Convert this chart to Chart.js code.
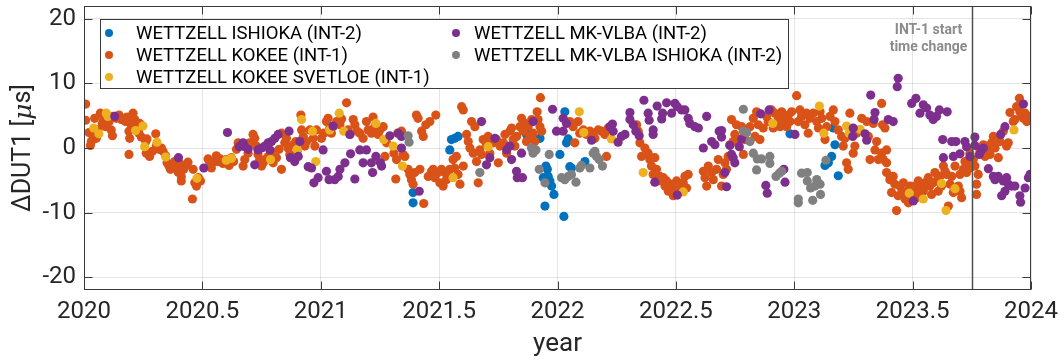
<!DOCTYPE html>
<html>
<head>
<meta charset="utf-8">
<script src="https://cdn.jsdelivr.net/npm/chart.js@4.4.1/dist/chart.umd.min.js"></script>
<style>
  html, body { margin: 0; padding: 0; background: #fff; }
</style>
</head>
<body>
<canvas id="chart" width="1061" height="360"></canvas>
<script>
/* ===== DATA ([year, ΔDUT1 in µs]) ===== */
const LABELS = [
  'WETTZELL ISHIOKA (INT-2)',
  'WETTZELL KOKEE (INT-1)',
  'WETTZELL KOKEE SVETLOE (INT-1)',
  'WETTZELL MK-VLBA (INT-2)',
  'WETTZELL MK-VLBA ISHIOKA (INT-2)',
];
const COLORS = ['#0072BD', '#D95319', '#EDB120', '#7E2F8E', '#808080'];

const X_TICKS = [2020, 2020.5, 2021, 2021.5, 2022, 2022.5, 2023, 2023.5, 2024];
const Y_TICKS = [-20, -10, 0, 10, 20];
const START_CHANGE = 2023.75;
const NOTE_LINES = ['INT-1 start', 'time change'];

const ishioka = [
  [2021.390,-6.9],[2021.390,-8.5],[2021.545,-0.3],[2021.552,1.3],[2021.566,1.5],[2021.580,1.8],
  [2021.869,2.1],[2021.926,1.5],[2021.940,-4.6],[2021.951,-2.8],[2021.957,-3.3],[2021.961,-4.4],
  [2021.968,-5.1],[2021.975,-5.9],[2021.985,-7.2],[2021.947,-9.0],[2022.031,5.6],[2022.038,0.8],
  [2022.045,1.4],[2022.052,-2.9],[2022.059,-3.1],[2022.116,-2.1],[2022.027,-10.6],[2022.010,-1.0],
  [2022.982,2.2],[2023.130,-2.7],[2023.144,-2.3],[2023.158,-1.3],[2023.172,0.5],[2023.165,3.1],
  [2023.186,-4.3],
];

const kokee = [
  // 2020.0 - 2020.65
  [2020.007,6.8],[2020.007,4.3],[2020.021,2.4],[2020.027,0.4],[2020.031,1.0],[2020.038,1.8],
  [2020.045,4.6],[2020.052,1.5],[2020.059,2.8],[2020.069,5.4],[2020.077,3.8],[2020.083,4.5],
  [2020.092,3.3],[2020.097,5.1],[2020.106,4.1],[2020.115,2.8],[2020.120,1.9],[2020.123,4.9],
  [2020.137,4.6],[2020.148,5.1],[2020.158,4.4],[2020.168,4.6],[2020.176,4.1],[2020.182,4.8],
  [2020.190,2.6],[2020.193,1.5],[2020.190,-1.0],[2020.200,3.6],[2020.207,5.4],[2020.214,4.4],
  [2020.224,3.1],[2020.232,2.3],[2020.235,3.8],[2020.242,1.7],[2020.261,1.0],[2020.266,1.4],
  [2020.263,-0.8],[2020.277,-1.3],[2020.289,-0.5],[2020.303,2.2],[2020.306,0.4],[2020.317,-0.2],
  [2020.327,0.0],[2020.334,-0.5],[2020.345,-1.2],[2020.351,-2.3],[2020.359,-2.8],[2020.365,-3.3],
  [2020.373,-2.6],[2020.383,-2.1],[2020.390,-2.9],[2020.397,-3.7],[2020.404,-2.4],[2020.411,-4.4],
  [2020.411,-5.1],[2020.421,-3.3],[2020.430,-2.7],[2020.439,-2.2],[2020.458,-7.9],[2020.461,-3.3],
  [2020.468,-5.4],[2020.475,-5.9],[2020.483,-4.6],[2020.492,-5.1],[2020.524,-1.7],[2020.531,-2.6],
  [2020.538,-3.1],[2020.545,-2.2],[2020.559,-1.2],[2020.566,-2.1],[2020.576,-1.7],[2020.587,-2.4],
  [2020.601,-1.8],[2020.613,-2.7],[2020.623,-1.5],[2020.632,-2.1],[2020.644,-0.2],[2020.651,0.8],
  // 2020.65 - 2021.33
  [2020.672,-2.8],[2020.679,-1.8],[2020.693,-0.8],[2020.700,0.8],[2020.714,2.1],[2020.721,1.5],
  [2020.728,0.3],[2020.735,-1.0],[2020.742,-1.8],[2020.750,-2.8],[2020.757,-2.3],[2020.764,-1.8],
  [2020.778,-1.3],[2020.792,-0.5],[2020.799,-2.3],[2020.813,-1.5],[2020.824,-0.2],[2020.834,2.3],
  [2020.834,-3.3],[2020.848,0.8],[2020.855,1.5],[2020.862,0.0],[2020.869,-1.0],[2020.883,0.5],
  [2020.895,1.0],[2020.900,-0.5],[2020.916,5.1],[2020.919,2.8],[2020.926,1.8],[2020.933,0.3],
  [2020.940,1.0],[2020.954,2.8],[2020.968,1.5],[2020.975,0.3],[2020.982,2.8],[2021.003,1.5],
  [2021.013,2.3],[2021.024,4.1],[2021.031,4.6],[2021.038,3.1],[2021.045,2.3],[2021.052,3.3],
  [2021.067,4.1],[2021.081,3.6],[2021.088,4.5],[2021.109,7.0],[2021.116,2.8],[2021.123,2.1],
  [2021.137,4.4],[2021.144,3.6],[2021.154,2.6],[2021.165,2.3],[2021.179,1.5],[2021.193,4.1],
  [2021.200,2.8],[2021.214,2.3],[2021.221,4.8],[2021.228,3.3],[2021.242,2.1],[2021.250,2.8],
  [2021.264,3.3],[2021.271,-1.3],[2021.278,0.8],[2021.309,-0.8],[2021.317,-4.8],[2021.320,-1.8],
  // 2021.33 - 2021.94
  [2021.341,2.6],[2021.348,-1.0],[2021.355,-1.3],[2021.369,-3.3],[2021.376,-4.1],[2021.383,-4.9],
  [2021.390,-5.6],[2021.397,-3.8],[2021.404,5.1],[2021.411,4.6],[2021.419,-3.3],[2021.426,2.6],
  [2021.433,1.8],[2021.435,-8.6],[2021.444,3.6],[2021.454,-4.4],[2021.461,4.1],[2021.468,-3.6],
  [2021.475,-3.3],[2021.482,-4.6],[2021.486,5.1],[2021.496,-3.8],[2021.503,-5.4],[2021.510,-3.3],
  [2021.517,-5.9],[2021.524,-3.8],[2021.531,-4.9],[2021.538,-4.1],[2021.545,-3.3],[2021.559,-1.8],
  [2021.566,-3.1],[2021.573,-1.3],[2021.580,-4.1],[2021.588,-5.6],[2021.595,6.4],[2021.602,5.9],
  [2021.602,-2.8],[2021.616,2.1],[2021.623,1.0],[2021.630,0.0],[2021.637,4.1],[2021.644,-0.8],
  [2021.651,3.3],[2021.658,-2.1],[2021.665,-5.4],[2021.672,-0.3],[2021.679,-1.0],[2021.686,1.3],
  [2021.700,0.5],[2021.707,1.8],[2021.714,-0.8],[2021.728,0.8],[2021.742,1.3],[2021.750,-2.3],
  [2021.757,0.3],[2021.771,0.8],[2021.778,2.1],[2021.785,-0.8],[2021.799,2.6],[2021.806,3.1],
  [2021.813,1.3],[2021.820,0.3],[2021.827,1.8],[2021.841,3.3],[2021.848,4.6],[2021.855,2.6],
  [2021.862,3.8],[2021.869,1.0],[2021.876,3.3],[2021.883,1.8],[2021.891,4.4],[2021.897,2.3],
  [2021.904,1.0],[2021.914,5.6],[2021.918,4.4],[2021.926,3.3],[2021.928,7.8],[2021.933,2.6],
  // 2022.0 - 2022.68
  [2022.052,4.1],[2022.066,3.3],[2022.073,0.8],[2022.087,4.1],[2022.094,2.3],[2022.109,2.8],
  [2022.123,2.1],[2022.137,2.6],[2022.151,2.3],[2022.158,1.5],[2022.172,2.8],[2022.186,2.6],
  [2022.200,2.1],[2022.207,-1.3],[2022.214,3.1],[2022.334,3.6],[2022.341,2.6],[2022.348,0.8],
  [2022.355,-1.3],[2022.369,0.0],[2022.383,-0.8],[2022.390,-1.8],[2022.397,-2.8],[2022.404,-4.1],
  [2022.411,-1.5],[2022.418,-3.3],[2022.425,-5.1],[2022.433,-4.4],[2022.447,-4.6],[2022.454,-5.9],
  [2022.461,-5.1],[2022.468,-6.7],[2022.475,-5.6],[2022.482,-6.4],[2022.489,-7.4],[2022.496,-6.2],
  [2022.503,-5.1],[2022.510,-6.4],[2022.517,-5.6],[2022.531,-5.4],[2022.538,-4.4],[2022.545,-6.2],
  [2022.552,-4.1],[2022.616,-3.6],[2022.623,-4.6],[2022.630,-5.9],[2022.637,-2.8],[2022.651,-3.8],
  [2022.658,-4.9],[2022.672,-3.3],[2022.679,-1.8],
  // 2022.69 - 2023.36
  [2022.693,-5.9],[2022.700,-4.1],[2022.707,-2.3],[2022.714,-3.3],[2022.721,-1.3],[2022.728,0.5],
  [2022.735,4.4],[2022.742,1.0],[2022.749,2.1],[2022.756,3.6],[2022.763,1.3],[2022.778,3.3],
  [2022.785,-1.0],[2022.792,1.3],[2022.799,2.8],[2022.813,3.3],[2022.827,4.6],[2022.834,1.8],
  [2022.841,5.6],[2022.848,3.6],[2022.855,1.3],[2022.869,3.1],[2022.883,4.9],[2022.890,4.1],
  [2022.904,5.9],[2022.911,3.1],[2022.918,5.4],[2022.933,4.6],[2022.940,3.3],[2022.947,5.6],
  [2022.954,4.4],[2022.968,3.3],[2022.975,5.1],[2022.982,4.1],[2022.989,5.6],[2023.010,8.1],
  [2023.017,4.1],[2023.024,5.9],[2023.031,4.9],[2023.045,3.6],[2023.052,5.4],[2023.059,2.3],
  [2023.066,4.6],[2023.080,5.4],[2023.095,4.1],[2023.102,3.1],[2023.109,5.6],[2023.116,4.6],
  [2023.130,1.3],[2023.137,3.3],[2023.151,4.9],[2023.165,5.9],[2023.172,4.1],[2023.186,2.8],
  [2023.200,1.8],[2023.207,0.3],[2023.214,1.5],[2023.221,-2.3],[2023.228,-3.3],[2023.235,5.4],
  [2023.249,-0.8],[2023.256,0.3],[2023.263,2.3],[2023.285,4.6],[2023.306,4.1],[2023.313,1.8],
  [2023.320,-1.8],[2023.334,3.8],[2023.341,-0.3],[2023.348,1.0],[2023.355,-1.8],
  // 2023.36 - 2024.0
  [2023.369,6.9],[2023.373,3.6],[2023.383,3.1],[2023.369,-0.8],[2023.376,-1.8],[2023.390,-2.3],
  [2023.390,-0.3],[2023.390,-3.8],[2023.404,-4.9],[2023.411,-6.9],[2023.418,-4.4],[2023.425,-5.6],
  [2023.432,-9.7],[2023.439,-7.4],[2023.446,-5.9],[2023.454,-6.9],[2023.461,-5.4],[2023.468,-7.9],
  [2023.475,-6.7],[2023.482,-8.5],[2023.489,-5.9],[2023.496,-7.2],[2023.503,-6.4],[2023.510,-5.9],
  [2023.517,-7.7],[2023.524,-5.1],[2023.531,-6.9],[2023.538,-5.9],[2023.545,-6.7],[2023.552,-5.4],
  [2023.559,-5.9],[2023.566,-4.6],[2023.573,-5.9],[2023.580,-7.2],[2023.587,-5.4],[2023.594,-3.8],
  [2023.601,-5.1],[2023.608,-6.7],[2023.615,-4.4],[2023.622,-5.9],[2023.630,-2.8],[2023.637,-3.6],
  [2023.644,-4.1],[2023.651,-9.0],[2023.658,-5.6],[2023.665,-4.4],[2023.672,-6.9],[2023.679,-2.8],
  [2023.693,-5.9],[2023.700,-6.7],[2023.707,-7.7],[2023.700,-4.1],[2023.714,-3.3],[2023.721,-2.1],
  [2023.728,-3.8],[2023.735,-2.3],[2023.742,-3.1],[2023.742,-0.8],[2023.756,-1.8],[2023.763,-2.8],
  [2023.770,-5.6],[2023.770,-7.2],[2023.777,-4.1],[2023.784,-0.3],[2023.791,-0.8],[2023.799,0.5],
  [2023.806,-1.3],[2023.813,0.3],[2023.820,-0.5],[2023.827,-1.0],[2023.834,0.8],[2023.841,1.8],
  [2023.848,0.0],[2023.862,-1.5],[2023.869,1.0],[2023.883,2.6],[2023.897,0.3],[2023.904,0.8],
  [2023.911,5.5],[2023.925,4.1],[2023.932,4.4],[2023.939,6.4],[2023.951,7.7],[2023.953,5.6],
  [2023.961,5.1],[2023.968,4.6],[2023.975,5.4],[2023.982,4.1],[2023.989,4.9],
];

const svetloe = [
  [2020.041,3.1],[2020.063,2.2],[2020.094,5.4],[2020.101,4.9],[2020.218,2.7],[2020.249,3.4],
  [2020.256,0.2],[2020.308,0.9],[2020.345,-1.4],[2020.477,-4.7],[2020.601,-1.9],[2020.623,-1.6],
  [2020.788,-1.8],[2020.900,-0.2],[2020.919,4.4],[2020.965,2.6],[2020.979,-2.1],[2021.038,2.8],
  [2021.078,5.4],[2021.097,2.6],[2021.233,3.8],[2021.266,1.3],[2021.306,0.3],[2021.323,2.3],
  [2021.345,-2.8],[2021.559,-4.6],[2021.707,0.2],[2022.092,5.6],[2022.111,2.4],[2022.228,1.4],
  [2022.362,-3.8],[2022.531,-6.8],[2022.909,3.8],[2023.106,6.5],[2023.125,2.3],[2023.221,3.4],
  [2023.232,2.3],[2023.278,2.9],[2023.486,-7.0],[2023.545,-7.9],[2023.622,-5.5],[2023.641,-9.7],
  [2023.679,-6.3],[2023.928,2.8],
];

const mkvlba = [
  [2020.130,4.9],[2020.399,-1.5],[2020.506,-3.1],[2020.606,2.4],[2020.655,0.2],
  [2020.672,0.8],[2020.679,0.2],[2020.693,-0.2],[2020.721,-2.6],[2020.735,-0.3],[2020.750,0.0],
  [2020.764,0.3],[2020.778,0.8],[2020.785,-0.3],[2020.792,1.0],[2020.806,1.5],[2020.820,2.1],
  [2020.866,2.6],[2020.872,-1.5],[2020.890,-2.1],[2020.905,-1.3],[2020.912,1.0],[2020.947,-2.9],
  [2020.961,-3.1],[2020.971,-5.4],[2020.989,-4.6],[2021.010,-0.3],[2021.024,-3.6],[2021.035,-4.9],
  [2021.052,3.4],[2021.059,-4.9],[2021.074,-4.4],[2021.081,-3.3],[2021.102,-2.3],[2021.123,2.1],
  [2021.126,-0.9],[2021.144,-4.8],[2021.165,-0.3],[2021.179,-2.3],[2021.193,-0.3],[2021.214,-2.3],
  [2021.219,-3.8],[2021.233,-1.3],[2021.252,-2.3],[2021.257,-2.8],[2021.292,1.9],[2021.327,2.3],
  [2021.341,1.8],[2021.341,0.0],[2021.416,-6.7],[2021.679,4.1],[2021.700,-2.6],[2021.714,-1.5],
  [2021.736,1.5],[2021.785,-0.3],[2021.799,0.3],[2021.806,-1.8],[2021.827,-3.6],[2021.830,-4.6],
  [2021.852,-4.6],[2021.848,-0.8],[2021.897,4.1],[2021.979,6.0],[2021.996,2.6],
  [2022.024,4.6],[2022.038,3.8],[2022.024,2.6],[2022.144,1.2],[2022.221,3.3],[2022.232,3.7],
  [2022.235,2.6],[2022.256,0.9],[2022.270,1.8],[2022.285,2.1],[2022.306,5.5],[2022.306,4.4],
  [2022.320,3.6],[2022.331,2.6],[2022.345,1.9],[2022.365,7.4],[2022.383,5.4],[2022.387,4.3],
  [2022.404,2.8],[2022.404,2.1],[2022.421,6.5],[2022.440,4.5],[2022.444,5.4],[2022.461,7.0],
  [2022.482,5.4],[2022.496,6.9],[2022.506,6.4],[2022.524,5.9],[2022.538,5.9],[2022.552,4.6],
  [2022.559,3.8],[2022.580,3.3],[2022.595,3.1],[2022.630,4.9],[2022.616,0.0],[2022.651,1.0],
  [2022.665,0.5],[2022.683,2.6],[2022.411,-5.3],[2022.506,-7.3],
  [2022.693,2.7],[2022.693,1.7],[2022.707,-3.8],[2022.714,-6.0],[2022.728,0.4],[2022.735,-1.0],
  [2022.742,-1.5],[2022.749,-2.3],[2022.768,0.2],[2022.778,1.4],[2022.858,5.3],[2022.894,5.9],
  [2022.880,-5.8],[2022.886,-7.0],[2022.956,-3.3],[2022.961,-5.3],[2023.003,2.1],[2023.249,3.1],
  [2023.247,1.8],[2023.299,2.2],[2023.306,1.2],[2023.323,8.2],[2023.341,5.5],[2023.337,4.4],
  [2023.439,10.8],[2023.435,9.5],[2023.496,6.9],[2023.514,7.7],[2023.531,5.4],[2023.545,6.7],
  [2023.559,6.2],[2023.573,5.1],[2023.587,4.4],[2023.601,4.9],[2023.613,5.9],[2023.646,5.6],
  [2023.397,4.4],[2023.418,4.1],[2023.503,-8.2],[2023.627,1.3],[2023.630,-1.5],[2023.665,1.0],
  [2023.672,-1.3],[2023.683,1.0],[2023.700,-0.9],[2023.721,1.0],[2023.728,0.2],[2023.742,-1.3],
  [2023.763,1.7],[2023.763,0.4],[2023.782,-1.0],[2023.791,-0.3],[2023.799,0.0],[2023.820,-3.2],
  [2023.841,-4.4],[2023.848,-4.9],[2023.862,-4.4],[2023.876,-7.4],[2023.883,-5.1],[2023.890,-6.7],
  [2023.897,-4.6],[2023.904,-5.6],[2023.918,-5.9],[2023.932,-5.9],[2023.953,-7.4],[2023.956,-8.4],
  [2023.975,-6.2],[2023.989,-4.6],[2023.996,-4.1],[2023.872,2.1],[2023.890,3.3],[2023.968,6.8],
];

const mkvlbaIshioka = [
  [2021.369,1.9],[2021.373,0.9],[2021.672,-3.8],[2021.890,0.0],[2021.897,-0.8],[2021.909,-0.3],
  [2021.923,-3.3],[2021.947,-5.4],[2021.965,-1.0],[2022.017,-4.6],[2022.031,-4.9],[2022.045,-4.4],
  [2022.059,-4.1],[2022.078,-5.3],[2022.094,-3.1],[2022.101,-2.7],[2022.137,-3.1],[2022.151,-0.8],
  [2022.158,-0.5],[2022.165,-1.3],[2022.176,-1.8],[2022.190,-2.8],[2022.785,6.0],[2022.785,2.6],
  [2022.799,2.4],[2022.813,1.0],[2022.827,-0.8],[2022.844,-1.7],[2022.862,-1.7],[2022.841,-3.4],
  [2022.897,-1.3],[2022.897,-2.4],[2022.923,-4.4],[2022.937,-3.9],[2022.947,-3.6],[2023.017,-7.9],
  [2023.017,-8.5],[2023.031,-3.9],[2023.055,-3.8],[2023.055,-5.1],[2023.069,-6.2],[2023.087,-5.9],
  [2023.095,-4.9],[2023.109,-5.6],[2023.111,-7.2],[2023.078,-8.1],[2023.134,-1.9],
];

const SERIES = [ishioka, kokee, svetloe, mkvlba, mkvlbaIshioka];

/* ===== DRAWING ===== */
const FONT = 'Roboto';
const INK = '#262626';
const TICK_LEN = 8;

Chart.defaults.font.family = FONT;

// MATLAB-style box, inward ticks, marker line, legend and axis titles
const matlabLook = {
  id: 'matlabLook',
  afterDatasetsDraw(chart) {
    const { ctx, chartArea: a, scales: { x, y } } = chart;
    ctx.save();

    // INT-1 start time change marker
    const vx = Math.round(x.getPixelForValue(START_CHANGE)) + 0.5;
    ctx.strokeStyle = '#505050';
    ctx.lineWidth = 1.5;
    ctx.beginPath();
    ctx.moveTo(vx, a.top);
    ctx.lineTo(vx, a.bottom);
    ctx.stroke();

    ctx.fillStyle = '#8c8c8c';
    ctx.font = `bold 14px ${FONT}`;
    ctx.textAlign = 'center';
    ctx.textBaseline = 'middle';
    ctx.fillText(NOTE_LINES[0], vx - 44, 30);
    ctx.fillText(NOTE_LINES[1], vx - 44, 47);

    // axes box
    const L = a.left + 0.5, R = a.right - 0.5, T = a.top + 0.5, B = a.bottom - 0.5;
    ctx.strokeStyle = '#3a3a3a';
    ctx.lineWidth = 1;
    ctx.strokeRect(L, T, R - L, B - T);

    // inward ticks
    ctx.beginPath();
    X_TICKS.forEach(v => {
      const px = Math.round(x.getPixelForValue(v)) + 0.5;
      ctx.moveTo(px, B); ctx.lineTo(px, B - TICK_LEN);
      ctx.moveTo(px, T); ctx.lineTo(px, T + TICK_LEN);
    });
    Y_TICKS.forEach(v => {
      const py = Math.round(y.getPixelForValue(v)) + 0.5;
      ctx.moveTo(L, py); ctx.lineTo(L + TICK_LEN, py);
      ctx.moveTo(R, py); ctx.lineTo(R - TICK_LEN, py);
    });
    ctx.stroke();

    // legend
    const box = { x: 100.5, y: 19.5, w: 688, h: 69 };
    ctx.fillStyle = '#fff';
    ctx.fillRect(box.x, box.y, box.w, box.h);
    ctx.strokeStyle = '#3a3a3a';
    ctx.strokeRect(box.x, box.y, box.w, box.h);
    const slots = [
      { dx: 109, tx: 136, ty: 33 }, { dx: 109, tx: 136, ty: 55 }, { dx: 109, tx: 136, ty: 77 },
      { dx: 456, tx: 474, ty: 33 }, { dx: 456, tx: 474, ty: 55 },
    ];
    ctx.font = `18.5px ${FONT}`;
    ctx.textAlign = 'left';
    ctx.textBaseline = 'middle';
    chart.data.datasets.forEach((ds, i) => {
      const s = slots[i];
      ctx.fillStyle = ds.backgroundColor;
      ctx.beginPath();
      ctx.arc(s.dx, s.ty, 4, 0, Math.PI * 2);
      ctx.fill();
      ctx.fillStyle = '#000';
      ctx.fillText(ds.label, s.tx, s.ty + 1);
    });

    // x title
    ctx.fillStyle = INK;
    ctx.font = `26px ${FONT}`;
    ctx.textAlign = 'center';
    ctx.textBaseline = 'middle';
    ctx.fillText('year', (a.left + a.right) / 2, 344);

    // y title with italic mu
    const parts = [
      ['ΔDUT1 [', `25px ${FONT}`],
      ['μ', `italic 25px "DejaVu Serif", serif`],
      ['s]', `25px ${FONT}`],
    ];
    let total = 0;
    parts.forEach(p => { ctx.font = p[1]; total += ctx.measureText(p[0]).width; });
    ctx.translate(24, (a.top + a.bottom) / 2);
    ctx.rotate(-Math.PI / 2);
    ctx.textAlign = 'left';
    let cx = -total / 2;
    parts.forEach(p => {
      ctx.font = p[1];
      ctx.fillText(p[0], cx, 0);
      cx += ctx.measureText(p[0]).width;
    });

    ctx.restore();
  },
};

new Chart(document.getElementById('chart'), {
  type: 'scatter',
  data: {
    datasets: SERIES.map((pts, i) => ({
      label: LABELS[i],
      data: pts.map(([x, y]) => ({ x, y })),
      backgroundColor: COLORS[i],
      borderWidth: 0,
      pointRadius: 4.6,
      pointHoverRadius: 4.6,
      order: SERIES.length - i,
    })),
  },
  options: {
    responsive: false,
    animation: false,
    layout: { padding: { top: 6, right: 30, left: 0, bottom: 0 } },
    plugins: { legend: { display: false }, tooltip: { enabled: false } },
    scales: {
      x: {
        type: 'linear',
        min: 2020,
        max: 2024,
        afterFit: s => { s.height = 70; s.paddingLeft = 0; s.paddingRight = 0; },
        afterBuildTicks: s => { s.ticks = X_TICKS.map(v => ({ value: v })); },
        ticks: {
          callback: v => String(v),
          color: INK,
          font: { size: 24 },
          padding: 8,
          maxRotation: 0,
        },
        grid: { color: 'rgba(0,0,0,0.1)', drawTicks: false },
        border: { display: false },
      },
      y: {
        min: -22,
        max: 22,
        afterFit: s => { s.width = 84; s.paddingTop = 0; s.paddingBottom = 0; },
        afterBuildTicks: s => { s.ticks = Y_TICKS.map(v => ({ value: v })); },
        ticks: {
          callback: v => String(v),
          color: INK,
          font: { size: 24 },
          padding: 8,
        },
        grid: { color: 'rgba(0,0,0,0.1)', drawTicks: false },
        border: { display: false },
      },
    },
  },
  plugins: [matlabLook],
});
</script>
</body>
</html>
